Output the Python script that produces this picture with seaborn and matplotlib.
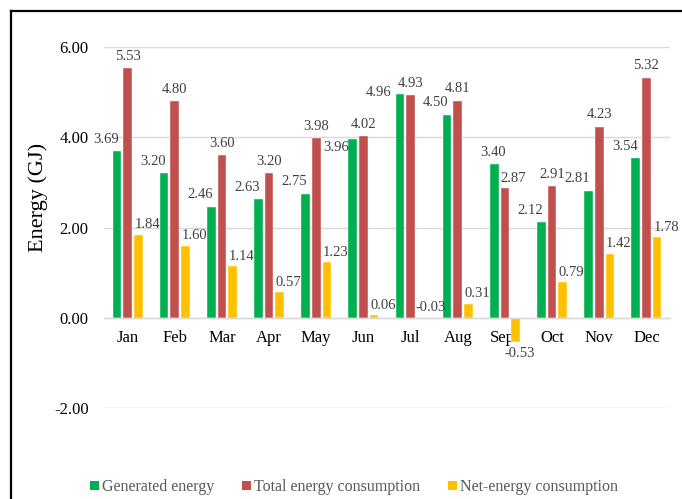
import matplotlib
matplotlib.use("Agg")
import matplotlib.pyplot as plt
import seaborn as sns
import pandas as pd
from matplotlib.lines import Line2D
from matplotlib.patches import Patch

months = ["Jan", "Feb", "Mar", "Apr", "May", "Jun", "Jul", "Aug", "Sept", "Oct", "Nov", "Dec"]
generated = [3.69, 3.20, 2.46, 2.63, 2.75, 3.96, 4.96, 4.50, 3.40, 2.12, 2.81, 3.54]
total = [5.53, 4.80, 3.60, 3.20, 3.98, 4.02, 4.93, 4.81, 2.87, 2.91, 4.23, 5.32]
net = [1.84, 1.60, 1.14, 0.57, 1.23, 0.06, -0.03, 0.31, -0.53, 0.79, 1.42, 1.78]
series_names = ["Generated energy", "Total energy consumption", "Net-energy consumption"]
y_ticks = [-2, 0, 2, 4, 6]

colors = ["#00B050", "#C0504D", "#FFC000"]

df = pd.DataFrame({
    "month": months * 3,
    "series": [series_names[0]] * 12 + [series_names[1]] * 12 + [series_names[2]] * 12,
    "value": generated + total + net,
})

sns.set_theme(style="white")
plt.rcParams["font.family"] = ["Liberation Serif", "DejaVu Serif"]

fig = plt.figure(figsize=(6.82, 4.99), dpi=100)
ax = fig.add_axes([104 / 682, 1 - 408 / 499, 566 / 682, 361 / 499])

sns.barplot(data=df, x="month", y="value", hue="series", order=months,
            hue_order=series_names, palette=colors, width=0.68, gap=0.18,
            edgecolor="white", linewidth=0.3, saturation=1, ax=ax, legend=False)

ax.set_ylim(-2, 6)
ax.set_xlim(-0.5, 11.5)
ax.set_yticks(y_ticks)
ax.set_yticklabels([f"{v:.2f}" for v in y_ticks], fontsize=12, color="black")
ax.grid(axis="y", color="#D9D9D9", linewidth=1.0)
ax.set_axisbelow(True)
for s in ["top", "right", "left"]:
    ax.spines[s].set_visible(False)
ax.spines["bottom"].set_position(("data", 0))
ax.spines["bottom"].set_color("#D9D9D9")
ax.spines["bottom"].set_linewidth(1.0)
ax.tick_params(axis="x", length=0, pad=8.5, labelsize=12, labelcolor="black")
ax.tick_params(axis="y", length=0, pad=11)
ax.set_xlabel("")
ax.set_ylabel("")

# data labels (offsets given in pixels, converted to points)
PX = 0.72
lab_color = "#404040"
for si, cont in enumerate(ax.containers):
    for i, bar in enumerate(cont.patches):
        g, r, n = generated[i], total[i], net[i]
        v = [g, r, n][si]
        cx = bar.get_x() + bar.get_width() / 2
        top = max(v, 0)
        if si == 0:
            if abs(g - r) < 0.1:
                dx, dy = (-17, -8) if g < r else (-21, 1)
            elif g > r + 0.2:
                dx, dy = -1, 12
            else:
                dx, dy = -11, 12
        elif si == 1:
            if g > r + 0.2:
                dx, dy = 8, 10
            else:
                dx, dy = 0, 12
        else:
            if v < -0.1:
                top = v
                dx, dy = 4, -12
            else:
                dx, dy = 9, 10
        ax.annotate(f"{v:.2f}", xy=(cx, top), xytext=(dx * PX, dy * PX),
                    textcoords="offset points", ha="center", va="center",
                    fontsize=10.5, color=lab_color, annotation_clip=False)

fig.text(38 / 682, 1 - 197 / 499, "Energy (GJ)", rotation=90, ha="center",
         va="center", fontsize=16, color="black")

handles = [Patch(facecolor=c, edgecolor="none") for c in colors]
fig.legend(handles, series_names, loc="center", bbox_to_anchor=(354 / 682, 1 - 487 / 499),
           ncol=3, frameon=False, fontsize=11.5, labelcolor="#595959",
           handlelength=0.55, handleheight=0.55, handletextpad=0.2,
           columnspacing=1.75, borderpad=0, borderaxespad=0)

# outer border (left and top visible)
fig.add_artist(Line2D([11 / 682, 11 / 682], [0, 1 - 11 / 499], transform=fig.transFigure,
                      color="black", linewidth=1.6, solid_capstyle="projecting"))
fig.add_artist(Line2D([11 / 682, 1], [1 - 11 / 499, 1 - 11 / 499], transform=fig.transFigure,
                      color="black", linewidth=1.6, solid_capstyle="projecting"))

fig.savefig("out.png", dpi=100)
